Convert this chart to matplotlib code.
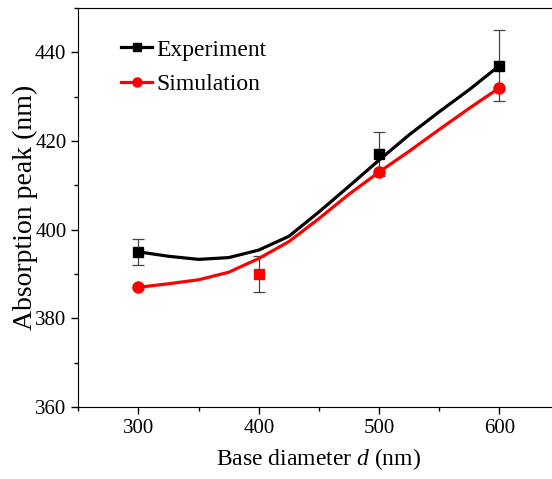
import matplotlib.pyplot as plt
from matplotlib.ticker import MultipleLocator

plt.rcParams['font.family'] = ['Liberation Serif', 'DejaVu Serif']
plt.rcParams['mathtext.fontset'] = 'custom'
plt.rcParams['mathtext.it'] = 'Liberation Serif:italic'
plt.rcParams['mathtext.rm'] = 'Liberation Serif'

# measured points
diametro = [300, 400, 500, 600]
experimento = [395, 390, 417, 437]
erro_exp = [3, 4, 5, 8]
cor_exp = ['black', 'red', 'black', 'black']

diametro_sim = [300, 500, 600]
simulacao = [387, 413, 432]

# smoothed curves
curva_x = [300, 325, 350, 375, 400, 425, 450, 475, 500, 525, 550, 575, 600]
curva_exp = [395.0, 394.0, 393.3, 393.7, 395.4, 398.5, 404.0, 409.8, 415.7, 421.4, 426.6, 431.6, 437.0]
curva_sim = [387.0, 387.8, 388.7, 390.4, 393.5, 397.3, 402.5, 408.0, 413.0, 417.7, 422.6, 427.4, 432.0]

fig = plt.figure(figsize=(5.52, 4.79), dpi=100)
ax = fig.add_axes([0.1418, 0.1503, 0.872, 0.833])

ax.plot(curva_x, curva_exp, color='black', lw=2.3, solid_joinstyle='round', zorder=3)
ax.plot(curva_x, curva_sim, color='red', lw=2.3, solid_joinstyle='round', zorder=3)

for x, y, e, c in zip(diametro, experimento, erro_exp, cor_exp):
    ax.errorbar(x, y, yerr=e, fmt='none', ecolor='#444444', elinewidth=0.9,
                capsize=4, capthick=0.9, zorder=2)
    ax.plot(x, y, marker='s', ms=7.5, color=c, mec=c, ls='none', zorder=4)

ax.plot(diametro_sim, simulacao, marker='o', ms=8, color='red', ls='none', zorder=4)

# legend proxies
ax.plot([], [], color='black', lw=2.3, marker='s', ms=6, label='Experiment')
ax.plot([], [], color='red', lw=2.3, marker='o', ms=6.5, label='Simulation')
ax.legend(loc='upper left', bbox_to_anchor=(0.045, 0.975), frameon=False,
          fontsize=17, handlelength=1.3, handletextpad=0.2, labelspacing=0.55)

ax.set_xlim(250, 650)
ax.set_ylim(360, 450)
ax.xaxis.set_major_locator(MultipleLocator(100))
ax.xaxis.set_minor_locator(MultipleLocator(50))
ax.yaxis.set_major_locator(MultipleLocator(20))
ax.yaxis.set_minor_locator(MultipleLocator(10))
ax.tick_params(which='both', direction='out', labelsize=15, width=1)
ax.tick_params(which='major', length=5)
ax.tick_params(which='minor', length=3)

ax.set_xlabel('Base diameter $\\mathit{d}$ (nm)', fontsize=17, labelpad=6)
ax.set_ylabel('Absorption peak (nm)', fontsize=20, labelpad=-2)

fig.savefig('out.png', dpi=100)
